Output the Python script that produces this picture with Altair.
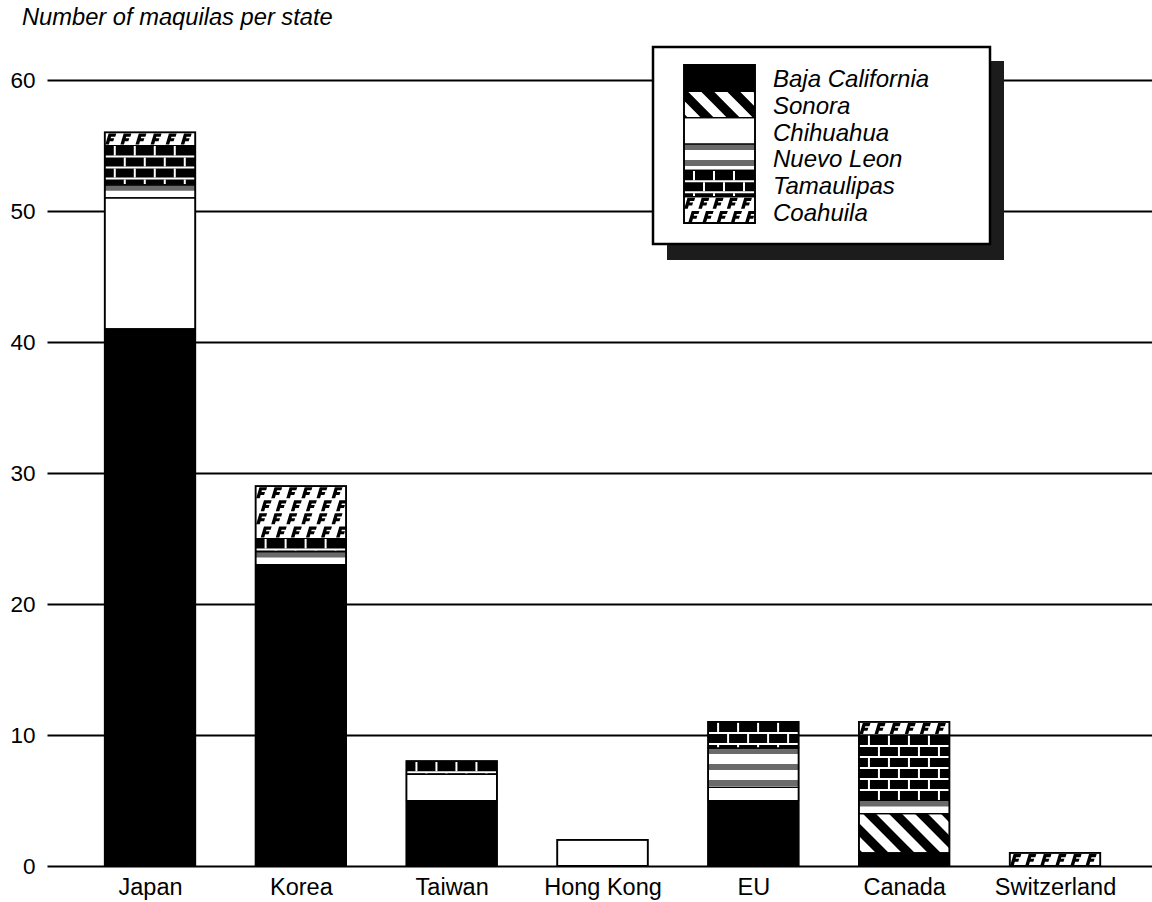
import altair as alt
import pandas as pd

# ---- data -------------------------------------------------------------
countries = ["Japan", "Korea", "Taiwan", "Hong Kong", "EU", "Canada", "Switzerland"]
states = ["Baja California", "Sonora", "Chihuahua", "Nuevo Leon", "Tamaulipas", "Coahuila"]

baja_california = [41, 23, 5, 0, 5, 1, 0]
sonora = [0, 0, 0, 0, 0, 3, 0]
chihuahua = [10, 0, 2, 2, 1, 0, 0]
nuevo_leon = [1, 1, 0, 0, 3, 1, 0]
tamaulipas = [3, 1, 1, 0, 2, 5, 0]
coahuila = [1, 4, 0, 0, 0, 1, 1]

y_ticks = [0, 10, 20, 30, 40, 50, 60]
TITLE = "Number of maquilas per state"

counts = dict(zip(states, [baja_california, sonora, chihuahua,
                           nuevo_leon, tamaulipas, coahuila]))

# ---- layout -------------------------------------------------------------
FONT = "Liberation Sans"
PLOT_LEFT, PLOT_TOP = 47, 80
PLOT_W, PLOT_H = 1105, 786
PLOT_BOTTOM = PLOT_TOP + PLOT_H
Y_MAX = 60
X_MIN, X_MAX = -0.683, 6.643
BAR_W = 0.6

SX = PLOT_W / (X_MAX - X_MIN)   # px per category step
SY = PLOT_H / Y_MAX             # px per maquila


def page_x(px):
    return X_MIN + (px - PLOT_LEFT) / SX


def page_y(py):
    return (PLOT_BOTTOM - py) / SY


# ---- segments (bars + legend swatches), in data units --------------------
segments = []
for i, country in enumerate(countries):
    base = 0
    for s in states:
        n = counts[s][i]
        if n > 0:
            segments.append(dict(group=country, state=s,
                                 x0=i - BAR_W / 2, x1=i + BAR_W / 2,
                                 y0=base, y1=base + n))
            base += n

# legend swatch column and its labels
SW_L, SW_R, SW_T, SW_B = 684, 755, 65, 223
row_h = (SW_B - SW_T) / len(states)
legend_rows = []
for r, s in enumerate(states):
    top = SW_T + r * row_h
    segments.append(dict(group="legend", state=s,
                         x0=page_x(SW_L), x1=page_x(SW_R),
                         y0=page_y(top + row_h), y1=page_y(top)))
    legend_rows.append(dict(state=s, x=page_x(773), y=page_y(80 + r * 26.8)))

BASE_FILL = {
    "Baja California": "black",
    "Sonora": "white",
    "Chihuahua": "white",
    "Nuevo Leon": "white",
    "Tamaulipas": "black",
    "Coahuila": "white",
}


def rect(x0, x1, y0, y1, **kw):
    return dict(x=x0, x2=x1, y=y0, y2=y1, **kw)


base_rects, pattern_rects, stripe_pts, glyph_pts = [], [], [], []

for seg in segments:
    x0, x1, y0, y1 = seg["x0"], seg["x1"], seg["y0"], seg["y1"]
    st = seg["state"]
    base_rects.append(rect(x0, x1, y0, y1, fill=BASE_FILL[st]))

    # pixel-sized geometry for the fill patterns
    u0, u1 = (x0 - X_MIN) * SX, (x1 - X_MIN) * SX
    v0, v1 = y0 * SY, y1 * SY

    if st == "Nuevo Leon":
        # stippled grey bands on white
        P, G = 16, 6
        top = v1
        while top > v0 + 0.5:
            bot = max(v0, top - G)
            pattern_rects.append(rect(X_MIN + u0 / SX, X_MIN + u1 / SX,
                                      bot / SY, top / SY, fill="#6a6a6a"))
            top -= P

    elif st == "Tamaulipas":
        # white mortar lines over black bricks
        RH, BW, M = 11, 20, 2
        k = 1
        while v1 - k * RH - M / 2 > v0 + 1:
            vm = v1 - k * RH
            pattern_rects.append(rect(X_MIN + u0 / SX, X_MIN + u1 / SX,
                                      (vm - M / 2) / SY, (vm + M / 2) / SY,
                                      fill="white"))
            k += 1
        k = 0
        while v1 - k * RH > v0 + 1:
            rt = v1 - k * RH - (M / 2 if k > 0 else 0)
            rb = max(v0, v1 - (k + 1) * RH + M / 2)
            ju = u0 + (BW / 2 if k % 2 == 0 else BW)
            while ju < u1 - 3:
                pattern_rects.append(rect(X_MIN + (ju - M / 2) / SX,
                                          X_MIN + (ju + M / 2) / SX,
                                          rb / SY, rt / SY, fill="white"))
                ju += BW
            k += 1

    elif st == "Sonora":
        # diagonal black stripes running top-left to bottom-right
        P, T = 26, 13
        c = u0 + v0 - T + 4
        sid = 0
        while c < u1 + v1:
            s1, s2 = c, c + T
            us = {u0, u1, s1 - v0, s1 - v1, s2 - v0, s2 - v1}
            us = sorted(u for u in us if u0 <= u <= u1)
            for u in us:
                lo = min(max(s1 - u, v0), v1)
                hi = min(max(s2 - u, v0), v1)
                stripe_pts.append(dict(sid=f"{seg['group']}-{sid}",
                                       x=X_MIN + u / SX, y=hi / SY, y2=lo / SY))
            sid += 1
            c += P

    elif st == "Coahuila":
        # staggered hook glyphs on white
        DX, DY = 14, 13
        nr = max(1, int((v1 - v0) // DY))
        nc = max(1, int((u1 - u0) // DX))
        dy = (v1 - v0) / nr
        dx = (u1 - u0) / nc
        for r in range(nr):
            shift = 0.3 * dx if r % 2 else 0.0
            for c_ in range(nc):
                gu = u0 + dx * (c_ + 0.4) + shift
                if gu > u1 - 4:
                    continue
                glyph_pts.append(dict(x=X_MIN + gu / SX,
                                      y=(v1 - dy * (r + 0.5)) / SY))

# outlines: every segment, then every whole bar / swatch column
seg_outlines = [rect(s["x0"], s["x1"], s["y0"], s["y1"]) for s in segments]
whole = {}
for s in segments:
    g = whole.setdefault(s["group"], [s["x0"], s["x1"], s["y0"], s["y1"]])
    g[2] = min(g[2], s["y0"])
    g[3] = max(g[3], s["y1"])
whole_outlines = [rect(*v) for v in whole.values()]

# legend frame with drop shadow
frame = [
    rect(page_x(667), page_x(1004), page_y(260), page_y(61), fill="#1c1c1c",
         stroke="#1c1c1c", sw=0),
    rect(page_x(653), page_x(990), page_y(244), page_y(47), fill="white",
         stroke="black", sw=2.5),
]

# ---- chart ------------------------------------------------------------
XS = alt.Scale(domain=[X_MIN, X_MAX], nice=False, zero=False)
YS = alt.Scale(domain=[0, Y_MAX], nice=False, zero=False)

label_expr = "[" + ",".join(f"'{c}'" for c in countries) + "][datum.value]"

x_axis = alt.Axis(values=list(range(len(countries))), labelExpr=label_expr,
                  labelFont=FONT, labelFontSize=23.5, labelColor="black",
                  labelPadding=9, labelFlush=False, labelOverlap=False,
                  ticks=False, domain=False, grid=False, title=None)
y_axis = alt.Axis(values=y_ticks, labelFont=FONT, labelFontSize=22.5,
                  labelColor="black", labelPadding=12, ticks=False,
                  domain=False, grid=True, gridColor="black", gridWidth=1.8,
                  gridOpacity=1, title=None, zindex=0)


def X(field="x"):
    return alt.X(f"{field}:Q", scale=XS, axis=x_axis)


def Y(field="y"):
    return alt.Y(f"{field}:Q", scale=YS, axis=y_axis)


def rect_chart(rows, **mark_kw):
    return alt.Chart(pd.DataFrame(rows)).mark_rect(**mark_kw).encode(
        x=X(), x2="x2:Q", y=Y(), y2="y2:Q")


frame_layer = rect_chart(frame).encode(
    color=alt.Color("fill:N", scale=None),
    stroke=alt.Stroke("stroke:N", scale=None),
    strokeWidth=alt.StrokeWidth("sw:Q", scale=None),
)

base_layer = rect_chart(base_rects).encode(color=alt.Color("fill:N", scale=None))
pattern_layer = rect_chart(pattern_rects).encode(color=alt.Color("fill:N", scale=None))

stripe_layer = alt.Chart(pd.DataFrame(stripe_pts)).mark_area(
    color="black", interpolate="linear"
).encode(x=X(), y=Y(), y2="y2:Q", detail="sid:N")

GLYPH = ("M-1,1 L-0.4,-1 L1,-1 L0.82,-0.42 L0.05,-0.42 L-0.03,-0.12 "
         "L0.62,-0.12 L0.45,0.42 L-0.18,0.42 L-0.35,1 Z")
glyph_layer = alt.Chart(pd.DataFrame(glyph_pts)).mark_point(
    shape=GLYPH, size=120, filled=True, color="black", opacity=1, strokeWidth=0
).encode(x=X(), y=Y())

seg_outline_layer = rect_chart(seg_outlines, fillOpacity=0, stroke="black",
                               strokeWidth=1.2)
whole_outline_layer = rect_chart(whole_outlines, fillOpacity=0, stroke="black",
                                 strokeWidth=1.8)

legend_text = alt.Chart(pd.DataFrame(legend_rows)).mark_text(
    font=FONT, fontSize=24, fontStyle="italic", align="left",
    baseline="middle", color="black"
).encode(x=X(), y=Y(), text="state:N")

title_text = alt.Chart(pd.DataFrame({"t": [TITLE]})).mark_text(
    font=FONT, fontSize=23.7, fontStyle="italic", align="left",
    baseline="alphabetic", color="black"
).encode(
    x=alt.value(22 - PLOT_LEFT),
    y=alt.value(25 - PLOT_TOP),
    text="t:N",
)

chart = alt.layer(
    frame_layer, base_layer, pattern_layer, stripe_layer, glyph_layer,
    seg_outline_layer, whole_outline_layer, legend_text, title_text,
).properties(
    width=PLOT_W,
    height=PLOT_H,
    autosize=alt.AutoSizeParams(type="none"),
    padding={"left": PLOT_LEFT, "top": PLOT_TOP, "right": 0,
             "bottom": 902 - PLOT_BOTTOM},
).configure(background="white").configure_view(stroke=None)

chart.save("out.html", embed_options={"renderer": "svg", "actions": False})
